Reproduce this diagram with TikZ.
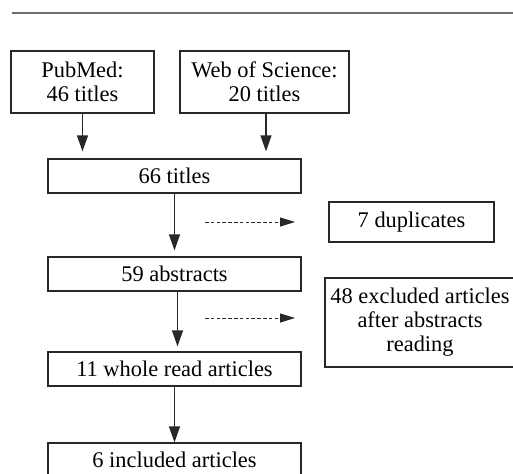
\documentclass[tikz,border=0pt]{standalone}
\usepackage{fontspec}
\setmainfont{Liberation Serif}
\usepackage{xcolor}
\usepackage{tikz}
\usetikzlibrary{arrows.meta}
\definecolor{linegray}{RGB}{40,40,40}
\definecolor{rulegray}{RGB}{110,110,110}

\begin{document}
\begin{tikzpicture}[x=0.5pt, y=-0.5pt, font=\fontsize{11.2}{12}\selectfont,
  box/.style={draw=linegray, line width=0.65pt, rectangle, align=center, inner sep=0pt},
  flow/.style={draw=linegray, line width=0.65pt, -{Triangle[length=8pt,width=5.5pt]}},
  skip/.style={draw=linegray, line width=0.5pt, dash pattern=on 1.8pt off 1.1pt, -{Triangle[length=7.5pt,width=4.5pt]}}]
\useasboundingbox (0,0) rectangle (513,473);

% rule on top
\coordinate (rulel) at (12,13);
\coordinate (ruler) at (513,13);
\draw[rulegray, line width=0.6pt] (rulel) -- (ruler);

\node[box, minimum width=71.5pt, minimum height=31pt] (pubmed) at (82.5,82) {PubMed:\\46 titles};
\node[box, minimum width=84.5pt, minimum height=31pt] (wos) at (264.5,82) {Web of Science:\\20 titles};
\node[box, minimum width=126.5pt, minimum height=17pt] (titles) at (174.5,176) {66 titles};
\node[box, minimum width=82.5pt, minimum height=20pt] (dup) at (411.5,222) {7 duplicates};
\node[box, minimum width=126.5pt, minimum height=17pt] (abstracts) at (174.5,274) {59 abstracts};
\node[box, minimum width=95pt, minimum height=44.5pt] (excluded) at (420,322.5) {48 excluded articles\\after abstracts\\reading};
\node[box, minimum width=126.5pt, minimum height=17pt] (whole) at (174.5,369) {11 whole read articles};
\node[box, minimum width=126.5pt, minimum height=17pt] (included) at (174.5,460) {6 included articles};

\draw[flow, shorten >=3.5pt] (pubmed.south) -- (pubmed.south |- titles.north);
\draw[flow, shorten >=3.5pt] ([xshift=0.75pt]wos.south) -- ([xshift=0.75pt]wos.south |- titles.north);
\draw[flow, shorten >=3pt] (titles.south) -- (abstracts.north);
\draw[flow, shorten >=2.5pt] ([xshift=1.5pt]abstracts.south) -- ([xshift=1.5pt]whole.north);
\draw[flow] (whole.south) -- (included.north);

% dashed side arrows
\coordinate (dupfrom) at (205,222);
\coordinate (dupto) at (295,222);
\coordinate (exfrom) at (205,318);
\coordinate (exto) at (295,318);
\draw[skip] (dupfrom) -- (dupto);
\draw[skip] (exfrom) -- (exto);
\end{tikzpicture}
\end{document}
